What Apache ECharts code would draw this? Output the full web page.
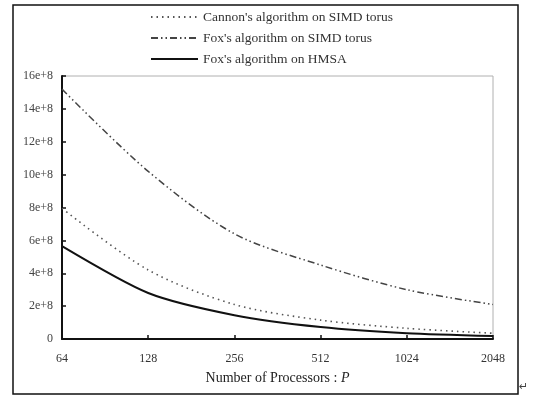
<!DOCTYPE html>
<html>
<head>
<meta charset="utf-8">
<script src="https://cdn.jsdelivr.net/npm/echarts@6/dist/echarts.min.js"></script>
<style>html,body{margin:0;padding:0;background:#fff}#c{width:534px;height:396px}</style>
</head>
<body>
<div id="c"></div>
<script>
const processors = [64, 128, 256, 512, 1024, 2048];
const seriesNames = ["Cannon's algorithm on SIMD torus", "Fox's algorithm on SIMD torus", "Fox's algorithm on HMSA"];
const cannonSIMD = [7.95e8, 4.2e8, 2.1e8, 1.15e8, 0.65e8, 0.35e8];
const foxSIMD = [15.2e8, 10.2e8, 6.4e8, 4.5e8, 3.0e8, 2.1e8];
const foxHMSA = [5.65e8, 2.8e8, 1.45e8, 0.73e8, 0.35e8, 0.18e8];
const yTicks = [0, 2e8, 4e8, 6e8, 8e8, 10e8, 12e8, 14e8, 16e8];

const font = 'Liberation Serif';
const chart = echarts.init(document.getElementById('c'), null, {renderer: 'canvas'});
const pairs = arr => processors.map((p, i) => [p, arr[i]]);

chart.setOption({
  animation: false,
  backgroundColor: '#fff',
  textStyle: {fontFamily: font, color: '#222'},
  legend: {
    orient: 'vertical',
    left: 145,
    top: 5,
    itemWidth: 47,
    itemHeight: 10,
    itemGap: 7,
    itemStyle: {opacity: 0},
    textStyle: {fontFamily: font, fontSize: 13.5, color: '#333'},
    data: seriesNames
  },
  grid: {left: 62, right: 41, top: 76, bottom: 57, show: true, borderColor: '#b0b0b0', borderWidth: 1},
  xAxis: {
    type: 'log',
    logBase: 2,
    min: 64,
    max: 2048,
    splitNumber: 5,
    name: 'Number of Processors : {i|P}',
    nameLocation: 'middle',
    nameGap: 32,
    nameTextStyle: {fontFamily: font, fontSize: 14, color: '#222', rich: {i: {fontStyle: 'italic', fontFamily: font, fontSize: 14, color: '#222'}}},
    axisLine: {lineStyle: {color: '#111', width: 2}},
    axisTick: {inside: true, length: 4, lineStyle: {color: '#111', width: 1.5}},
    axisLabel: {fontFamily: font, fontSize: 12, color: '#333', margin: 14, formatter: v => String(Math.round(v))},
    splitLine: {show: false}
  },
  yAxis: {
    type: 'value',
    min: yTicks[0],
    max: yTicks[yTicks.length - 1],
    interval: yTicks[1] - yTicks[0],
    axisLine: {show: true, lineStyle: {color: '#111', width: 2}},
    axisTick: {show: true, inside: true, length: 4, lineStyle: {color: '#111', width: 1.5}},
    axisLabel: {fontFamily: font, fontSize: 12, color: '#444', margin: 9, formatter: v => v === 0 ? '0' : (Math.round(v / 1e8)) + 'e+8'},
    splitLine: {show: false}
  },
  series: [
    {name: seriesNames[0], type: 'line', data: pairs(cannonSIMD), symbol: 'none', smooth: 0.3,
     lineStyle: {color: '#555', width: 1.6, type: [1.5, 4]}, itemStyle: {color: '#555'}},
    {name: seriesNames[1], type: 'line', data: pairs(foxSIMD), symbol: 'none', smooth: 0.3,
     lineStyle: {color: '#444', width: 1.5, type: [7, 3, 1.5, 3, 1.5, 3]}, itemStyle: {color: '#444'}},
    {name: seriesNames[2], type: 'line', data: pairs(foxHMSA), symbol: 'none', smooth: 0.25,
     lineStyle: {color: '#111', width: 2}, itemStyle: {color: '#111'}}
  ],
  graphic: [
    {type: 'rect', shape: {x: 13, y: 5, width: 505, height: 389}, style: {fill: 'none', stroke: '#111', lineWidth: 1.5}, silent: true},
    {type: 'text', left: 519, top: 382, style: {text: '↵', font: '11px "DejaVu Sans"', fill: '#444'}, silent: true}
  ]
});
</script>
</body>
</html>
